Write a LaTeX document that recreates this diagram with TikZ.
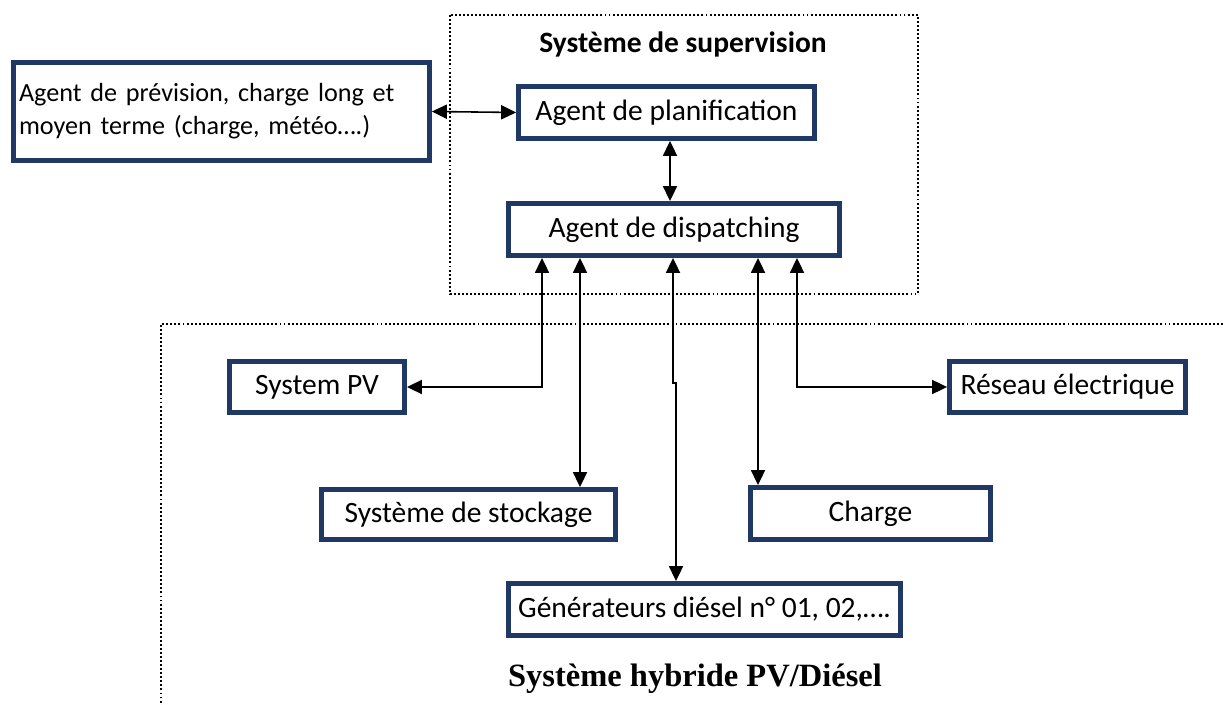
\documentclass[tikz,border=0pt]{standalone}
\usepackage{fontspec}
\setmainfont{Carlito}
\newfontfamily\titlefont{Liberation Serif}
\usetikzlibrary{positioning, arrows.meta, calc}
\definecolor{agentblue}{HTML}{1F3864}

\begin{document}
\begin{tikzpicture}[x=0.02cm, y=-0.02cm, >={Triangle[length=8.5pt, width=8pt]},
    ag/.style={draw=agentblue, line width=2.8pt, fill=white, inner sep=0pt, align=center,
      font=\fontsize{16.8}{18.7}\selectfont, minimum height=1.04cm},
    link/.style={<->, line width=0.9pt},
    zone/.style={line width=1.1pt, dash pattern=on 1.1pt off 1.2pt}]
  \useasboundingbox (0,0) rectangle (1223,705);

  % zones
  \draw[zone] (450,15) rectangle (918,294);
  \draw[zone] (1223,324) -- (161,324) -- (161,705);
  \node[anchor=base, font=\fontsize{16.8}{18.7}\selectfont\bfseries] (suptitle) at (683,53) {Système de supervision};
  \node[anchor=base, font=\fontsize{18.5}{22}\selectfont\titlefont\bfseries] (hybtitle) at (695,686) {Système hybride PV/Diésel};

  % agents
  \node[ag, align=left, text width=8.1cm, inner xsep=0.11cm, minimum height=1.96cm,
    font=\fontsize{14.9}{18.7}\selectfont] (prev) at (221.5,111.5)
    {Agent de prévision, charge long et\\moyen terme (charge, météo….)};
  \node[ag, minimum width=5.92cm] (plan) at (666.5,112.5) {Agent de planification};
  \node[ag, minimum width=6.62cm] (disp) at (674,229.5) {Agent de dispatching};

  % hybrid system parts
  \node[ag, minimum width=3.5cm, minimum height=1.02cm] (pv) at (317,387) {System PV};
  \node[ag, minimum width=5.88cm, minimum height=1.0cm] (stock) at (468.5,514.5) {Système de stockage};
  \node[ag, minimum width=4.8cm] (charge) at (870.5,513.5) {Charge};
  \node[ag, minimum width=4.72cm, minimum height=1.02cm] (reseau) at (1067.5,387) {Réseau électrique};
  \node[ag, minimum width=7.84cm] (gen) at (704.5,609.5) {Générateurs diésel n° 01, 02,….};

  \coordinate (tpv) at ($(disp.south)+(-132,0)$);
  \coordinate (tst) at ($(disp.south)+(-94,0)$);
  \coordinate (tgen) at ($(disp.south)+(-1,0)$);
  \coordinate (tch) at ($(disp.south)+(84,0)$);
  \coordinate (tres) at ($(disp.south)+(123,0)$);

  \draw[link] (prev.east) -- (plan.west);
  \draw[link] ([xshift=0.07cm]plan.south) -- ([xshift=0.07cm]plan.south |- disp.north);
  \draw[link] (tpv) |- (pv.east);
  \draw[link] (tst) -- (tst |- stock.north);
  \draw[link] (tgen) -- ++(0,125) -| ([xshift=-0.57cm]gen.north);
  \draw[link] (tch) -- (tch |- charge.north);
  \draw[link] (tres) |- (reseau.west);
\end{tikzpicture}
\end{document}
